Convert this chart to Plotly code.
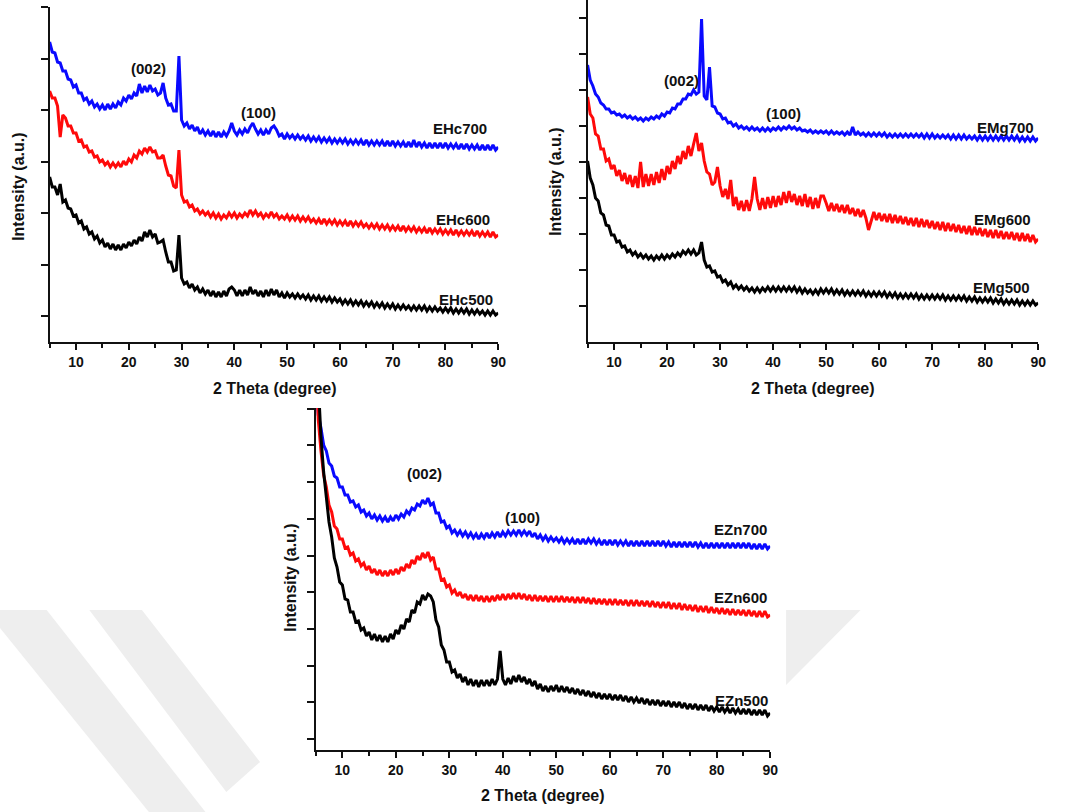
import plotly.graph_objects as go

W, H = 1071, 812
BLUE, RED, BLACK = "#0a0aff", "#ff0a0a", "#000000"
FONT = "Liberation Sans, Arial, sans-serif"

# ---------------- data ----------------
# 2theta sampling: 5.0, 5.5, ..., 90.0 (each row below = 5 degrees)
TWO_THETA = [5 + 0.5 * i for i in range(171)]

EHC700 = [300,290,289,280,279,271,271,263,262,255,
          257,249,249,242,244,238,241,235,238,233,
          237,232,238,233,238,234,240,237,244,241,
          247,243,249,246,258,249,256,250,257,251,
          253,247,249,259,244,237,238,231,231,286,
          222,216,219,213,217,211,215,208,212,207,
          211,206,211,205,210,205,210,206,211,219,
          211,207,212,208,213,209,215,219,213,208,
          212,207,212,208,214,216,212,206,208,203,
          208,204,207,203,207,203,206,202,206,201,
          205,201,205,200,204,200,204,199,203,199,
          203,199,203,198,202,198,202,198,202,197,
          202,197,201,197,201,197,201,196,201,196,
          201,196,200,196,200,195,200,195,202,195,
          200,195,199,194,199,194,199,194,199,194,
          199,194,198,194,198,193,198,193,198,193,
          197,193,197,192,197,192,197,192,197,192,
          195]
EHC600 = [251,244,244,236,205,227,224,216,216,209,
          209,201,202,195,196,190,191,185,186,180,
          182,177,180,175,179,175,179,175,181,177,
          183,180,187,184,191,188,194,190,195,190,
          191,184,184,187,176,167,166,156,154,192,
          147,140,141,135,137,131,133,128,131,127,
          130,125,129,124,128,123,127,124,129,125,
          129,124,128,125,129,126,132,127,131,126,
          129,124,128,125,130,125,128,123,126,123,
          127,122,126,122,126,121,125,121,125,120,
          123,119,123,118,123,118,122,118,122,117,
          121,117,121,116,121,116,120,116,120,115,
          118,114,118,114,118,113,117,113,117,112,
          116,112,116,111,116,111,115,111,115,110,
          114,110,114,109,114,109,113,109,113,108,
          112,108,112,107,112,107,111,107,111,107,
          111,106,111,106,110,106,110,105,110,105,
          107]
EHC500 = [165,155,155,147,158,140,142,134,133,126,
          127,119,121,113,115,108,110,103,106,99,
          102,95,99,93,98,92,97,92,98,94,
          100,96,102,98,105,101,110,105,112,105,
          108,99,100,102,90,80,80,71,72,107,
          64,58,60,54,58,52,55,49,53,48,
          52,46,51,45,50,45,51,46,53,55,
          52,46,52,46,52,47,55,48,52,46,
          51,45,52,46,53,47,52,45,49,44,
          49,45,48,44,48,44,47,43,47,42,
          46,42,46,41,45,41,45,40,44,40,
          43,38,42,38,42,37,41,37,41,36,
          40,36,40,35,39,35,39,34,38,34,
          38,33,37,33,37,33,36,32,36,32,
          36,32,36,31,35,31,35,31,34,30,
          34,30,34,29,33,29,33,29,33,28,
          32,28,32,28,31,27,31,27,31,27,
          29]

EMG700 = [277,262,256,248,245,239,237,233,233,229,
          230,227,228,225,227,224,226,223,225,222,
          224,221,224,222,225,223,226,224,228,226,
          230,229,234,233,238,238,243,243,248,247,
          252,248,250,323,246,242,275,236,235,229,
          228,223,224,219,220,216,218,214,216,213,
          215,212,215,212,214,211,214,211,214,211,
          214,212,215,212,215,213,216,213,215,212,
          214,211,212,210,212,209,211,209,211,209,
          211,208,211,208,210,208,210,207,210,207,
          215,207,210,207,209,206,209,206,209,206,
          209,206,209,205,208,205,208,205,208,205,
          208,205,208,205,208,205,208,204,208,204,
          208,204,207,204,207,204,207,203,207,203,
          207,203,207,203,206,203,206,202,206,202,
          206,202,206,202,206,202,206,202,206,202,
          206,202,206,201,205,201,205,201,205,201,
          204]
EMG600 = [245,228,224,208,206,193,193,181,183,173,
          177,166,172,161,169,158,167,155,166,154,
          180,155,168,156,168,157,170,159,173,162,
          176,168,181,173,186,178,191,183,196,186,
          198,209,191,199,181,170,168,157,160,175,
          156,145,153,143,162,136,145,132,141,131,
          142,131,143,165,143,132,144,133,145,134,
          146,135,146,137,150,139,151,140,148,137,
          146,136,148,135,145,133,144,134,146,146,
          139,131,139,131,138,130,137,129,137,128,
          134,126,133,125,132,124,112,122,130,122,
          129,121,128,120,128,119,127,119,126,118,
          125,117,124,116,124,115,123,115,122,114,
          121,113,120,112,120,111,119,111,118,110,
          117,109,116,108,116,107,115,107,114,106,
          113,105,112,104,112,104,111,103,110,103,
          110,102,109,101,109,101,108,100,107,100,
          103]
EMG500 = [181,164,157,144,141,129,127,117,116,107,
          107,100,101,95,96,90,92,87,90,85,
          88,84,87,83,86,82,86,83,87,83,
          87,84,88,85,89,86,91,88,92,88,
          92,87,89,100,82,75,76,70,71,65,
          66,60,62,57,60,54,57,53,56,52,
          55,51,54,50,54,50,54,51,55,51,
          55,51,55,51,55,51,55,51,55,50,
          54,49,53,49,52,48,52,48,53,49,
          53,49,53,48,52,48,52,47,51,47,
          51,47,51,47,51,46,50,46,50,46,
          50,46,50,45,49,45,49,44,48,44,
          48,44,48,44,48,43,47,43,47,43,
          47,43,47,43,47,42,46,42,46,42,
          46,42,46,41,45,41,45,40,44,40,
          44,40,44,39,43,39,43,38,42,38,
          42,38,42,37,41,37,41,37,41,37,
          39]

EZN700 = [380,335,322,305,299,287,284,274,272,263,
          263,255,255,248,249,243,245,238,240,234,
          237,231,235,230,234,229,233,228,233,229,
          235,231,236,233,239,236,242,240,246,244,
          250,246,252,245,247,237,237,228,229,222,
          224,217,220,215,219,214,218,213,217,212,
          216,211,216,212,217,212,217,213,218,213,
          218,214,219,215,219,215,220,215,219,215,
          219,213,217,211,215,210,214,209,213,209,
          212,208,212,207,211,207,211,206,211,206,
          211,206,211,207,211,206,210,205,210,205,
          210,205,210,205,209,205,209,204,209,204,
          209,204,209,204,209,204,209,204,209,204,
          209,204,208,203,208,203,208,203,208,203,
          208,203,208,203,207,202,207,202,207,202,
          207,202,207,202,207,202,207,202,207,202,
          207,202,207,201,206,201,206,201,206,201,
          204]
EZN600 = [400,330,299,275,263,245,238,224,221,211,
          211,202,203,195,197,189,191,184,187,180,
          184,177,181,175,180,174,179,174,180,175,
          181,176,183,179,186,182,190,186,194,190,
          197,192,198,190,193,181,181,170,171,163,
          165,157,160,154,158,152,156,150,155,149,
          155,149,154,148,154,148,154,149,155,150,
          156,150,156,151,157,151,157,151,156,150,
          155,149,155,149,154,149,154,148,154,148,
          154,148,154,148,153,148,153,147,153,147,
          153,147,152,146,152,146,151,146,151,145,
          151,145,151,145,150,145,150,144,150,144,
          150,144,149,144,149,143,149,143,148,142,
          148,142,148,141,147,141,147,140,146,140,
          145,139,145,138,144,138,144,137,143,137,
          142,136,142,136,141,135,141,135,140,135,
          140,134,140,134,139,133,139,133,139,133,
          135]
EZN500 = [420,370,313,278,256,228,213,192,183,168,
          165,151,150,138,138,128,129,120,122,114,
          118,110,116,109,115,108,114,108,116,111,
          120,116,125,121,131,128,140,137,148,146,
          155,150,156,154,148,130,123,105,100,88,
          88,78,80,72,76,68,73,65,71,64,
          70,63,70,64,70,64,71,65,71,99,
          71,65,72,66,74,68,75,68,73,66,
          71,64,69,61,66,59,64,58,64,59,
          65,58,64,58,63,57,62,56,61,55,
          60,54,59,53,58,52,57,51,56,51,
          56,50,55,50,55,49,54,48,53,48,
          52,47,52,46,51,45,50,45,50,44,
          49,44,49,43,48,43,48,42,47,41,
          46,41,46,40,45,40,45,39,44,39,
          43,38,43,38,42,37,42,37,41,36,
          41,36,41,35,40,35,40,35,40,34,
          37]

X_TICKS = [10, 20, 30, 40, 50, 60, 70, 80, 90]
X_MINOR = [5, 15, 25, 35, 45, 55, 65, 75, 85]

# peak / sample labels: (text, 2theta, intensity)
LABELS_HC = [("(002)", 23.8, 273), ("(100)", 44.5, 229), ("EHc700", 82.7, 213), ("EHc600", 83.4, 122), ("EHc500", 83.8, 42)]
LABELS_MG = [("(002)", 22.8, 262), ("(100)", 41.9, 229), ("EMg700", 83.8, 215), ("EMg600", 83.3, 123), ("EMg500", 83.1, 55)]
LABELS_ZN = [("(002)", 25.4, 277), ("(100)", 43.6, 233), ("EZn700", 84.4, 221), ("EZn600", 84.4, 153), ("EZn500", 84.6, 50)]

# ---------------- layout helpers ----------------
def fx(p):
    return p / W

def fy(p):
    return 1 - p / H

panels = [
    dict(series=[EHC700, EHC600, EHC500], labels=LABELS_HC, dx=(50, 502), dy=(7, 342), yr=[0, 335],
         yt=[26 + 51.5 * k for k in range(7)], xt=(277, 388), ytp=(18, 187)),
    dict(series=[EMG700, EMG600, EMG500], labels=LABELS_MG, dx=(592, 1046), dy=(0, 342), yr=[0, 342],
         yt=[36 * k for k in range(1, 10)], xt=(819, 388), ytp=(559, 182)),
    dict(series=[EZN700, EZN600, EZN500], labels=LABELS_ZN, dx=(318, 776), dy=(408, 750), yr=[0, 342],
         yt=[11 + 36.7 * k for k in range(10)], xt=(547, 795), ytp=(292, 578)),
]
colors = [BLUE, RED, BLACK]

fig = go.Figure()
annotations = []
layout = dict(width=W, height=H, margin=dict(l=0, r=0, t=0, b=0), showlegend=False,
              paper_bgcolor="white", plot_bgcolor="rgba(0,0,0,0)")

for i, p in enumerate(panels):
    n = "" if i == 0 else str(i + 1)
    xa, ya = "x" + n, "y" + n
    for s, c in zip(p["series"], colors):
        fig.add_trace(go.Scatter(x=TWO_THETA[:len(s)], y=s, mode="lines",
                                 line=dict(color=c, width=3.0), xaxis=xa, yaxis=ya,
                                 hoverinfo="skip"))
    tickfont = dict(family=FONT, size=14, color="#111", weight="bold")
    layout["xaxis" + n] = dict(domain=[fx(p["dx"][0]), fx(p["dx"][1])], range=[5, 90], anchor=ya,
                               tickmode="array", tickvals=X_TICKS, ticks="outside", ticklen=6, tickwidth=1.5,
                               tickcolor="#111", showline=True, linecolor="#111", linewidth=1.5,
                               showgrid=False, zeroline=False, tickfont=tickfont,
                               minor=dict(tickmode="array", tickvals=X_MINOR, ticks="outside", ticklen=4,
                                          tickwidth=1.5, tickcolor="#111", showgrid=False))
    layout["yaxis" + n] = dict(domain=[fy(p["dy"][1]), fy(p["dy"][0])], range=p["yr"], anchor=xa,
                               tickmode="array", tickvals=p["yt"], ticks="outside", ticklen=7, tickwidth=1.5,
                               tickcolor="#111", showticklabels=False, showline=True, linecolor="#111",
                               linewidth=1.5, showgrid=False, zeroline=False)
    for t, x, y in p["labels"]:
        annotations.append(dict(text=t, x=x, y=y, xref=xa, yref=ya, showarrow=False,
                                font=dict(family=FONT, size=15, color="#111", weight="bold")))
    annotations.append(dict(text="2 Theta (degree)", x=fx(p["xt"][0]), y=fy(p["xt"][1]), xref="paper",
                            yref="paper", showarrow=False, xanchor="center", yanchor="middle",
                            font=dict(family=FONT, size=16, color="#111", weight="bold")))
    annotations.append(dict(text="Intensity (a.u.)", x=fx(p["ytp"][0]), y=fy(p["ytp"][1]), xref="paper",
                            yref="paper", showarrow=False, textangle=-90, xanchor="center", yanchor="middle",
                            font=dict(family=FONT, size=16, color="#111", weight="bold")))

# faint watermark stripes
def poly(pts):
    d = "M " + " L ".join(f"{fx(a):.5f},{fy(b):.5f}" for a, b in pts) + " Z"
    return dict(type="path", path=d, xref="paper", yref="paper", fillcolor="#eeeeee",
                line=dict(width=0), layer="below")

shapes = [poly([(0, 610), (47, 610), (207, 812), (150, 812), (0, 628)]),
          poly([(90, 610), (143, 610), (262, 762), (228, 792)]),
          poly([(792, 610), (867, 610), (792, 685)])]

layout["annotations"] = annotations
layout["shapes"] = shapes
fig.update_layout(**layout)
fig.write_html("out.html")
